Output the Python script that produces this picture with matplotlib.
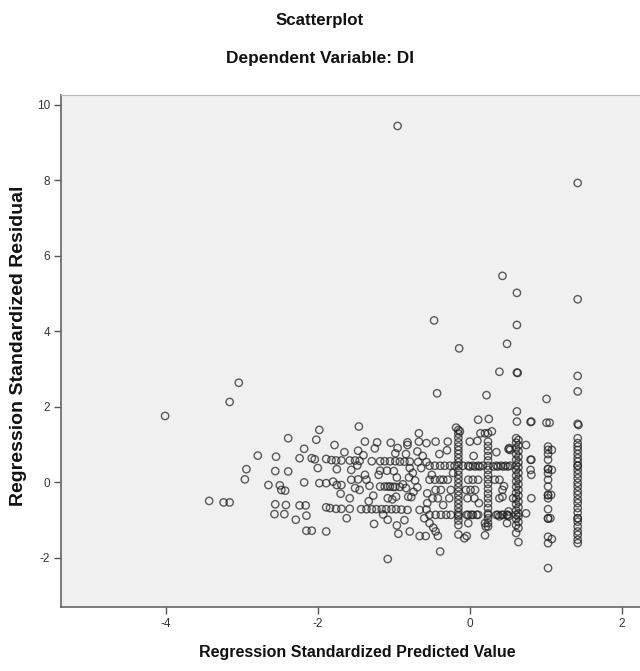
import matplotlib
matplotlib.use("Agg")
import matplotlib.pyplot as plt

# ---------------- data ----------------
outlier_x = [-4.01, -3.04, -3.16, -0.95, 1.42, 0.43, 0.62, 1.42, -0.47, 0.62, 0.49, -0.14,
             0.39, 0.62, 0.63, 1.42, 1.42, -0.43, 0.22, 1.01, 0.62, 0.62, 0.80, 0.25, 0.11,
             1.01, 1.05, 1.42, 1.43]
outlier_y = [1.76, 2.64, 2.13, 9.44, 7.93, 5.47, 5.02, 4.85, 4.29, 4.17, 3.67, 3.55,
             2.93, 2.91, 2.90, 2.82, 2.41, 2.36, 2.31, 2.21, 1.88, 1.61, 1.60, 1.68, 1.66,
             1.58, 1.58, 1.55, 1.52]

left_x = [-3.43, -3.24, -3.16, -2.39, -1.98, -2.02, -2.18, -2.79, -2.55, -2.24, -2.08, -2.04,
          -1.89, -2.00, -2.94, -2.96, -2.56, -2.39, -2.65, -2.50, -2.48, -2.43, -2.18, -1.98,
          -1.89, -2.56, -2.42, -2.24, -2.16, -1.89, -2.57, -2.44, -2.29, -2.15, -2.15, -2.08,
          -1.89]
left_y = [-0.49, -0.53, -0.53, 1.17, 1.39, 1.13, 0.89, 0.71, 0.68, 0.64, 0.64, 0.61,
          0.62, 0.38, 0.35, 0.08, 0.30, 0.29, -0.07, -0.08, -0.20, -0.22, 0.00, -0.02,
          -0.02, -0.58, -0.60, -0.61, -0.61, -0.66, -0.84, -0.84, -0.99, -0.88, -1.28, -1.28,
          -1.30]

midleft_x = [-1.46, -1.78, -1.38, -1.22, -1.04, -0.82, -0.82, -0.67, -0.67, -0.57, -0.95, -0.98,
             -0.84, -0.69, -1.47,
             -1.82, -1.76, -1.69, -1.58, -1.51, -1.45, -1.29, -1.18, -1.12, -1.05, -0.98, -0.92,
             -0.86, -0.79, -0.68, -0.57,
             -1.75, -1.56, -1.18, -1.09, -0.79, -0.64,
             -1.56, -1.47, -1.38, -1.36, -1.32, -0.96, -0.80, -0.69,
             -1.80, -1.75, -1.69, -1.51, -1.45, -1.27,
             -1.18, -1.12, -1.08, -1.05, -1.01, -0.98, -0.92,
             -1.08, -0.97, -0.81, -0.77, -0.84, -1.58, -0.56, -0.56,
             -1.84, -1.76, -1.69, -1.58, -1.43, -1.36, -1.29, -1.23, -1.16, -1.10, -1.03, -0.97,
             -0.90, -0.82, -0.66, -0.57,
             -1.26, -1.08, -0.96, -0.94, -0.79, -0.66, -0.58, -1.08,
             -1.65, -1.40, -1.25, -1.00, -0.75, -0.62, -1.70, -1.20, -0.88, -0.72,
             -1.62, -1.33, -1.14, -0.86, -0.60, -1.48, -1.02, -0.74]
midleft_y = [1.48, 0.99, 1.08, 1.06, 1.05, 1.06, 0.99, 1.30, 1.08, 1.04, 0.91, 0.77,
             0.75, 0.82, 0.84,
             0.59, 0.58, 0.58, 0.58, 0.58, 0.57, 0.56, 0.56, 0.56, 0.56, 0.56, 0.55,
             0.55, 0.55, 0.54, 0.54,
             0.35, 0.33, 0.31, 0.31, 0.38, 0.38,
             0.07, 0.08, 0.20, 0.07, -0.09, 0.13, 0.13, -0.13,
             0.02, -0.07, -0.07, -0.15, -0.20, -0.35,
             -0.11, -0.11, -0.11, -0.11, -0.12, -0.12, -0.12,
             -0.42, -0.38, -0.38, -0.39, -0.15, -0.42, -0.29, -0.55,
             -0.68, -0.70, -0.70, -0.70, -0.71, -0.71, -0.71, -0.71, -0.71, -0.71, -0.71, -0.71,
             -0.72, -0.73, -0.73, -0.72,
             -1.10, -0.99, -1.14, -1.36, -1.30, -1.42, -1.42, -2.03,
             0.80, 0.72, 0.90, 0.30, 0.25, 0.70, -0.30, 0.20, -0.05, 0.05,
             -0.95, -0.50, -0.85, -1.00, -0.95, 0.45, -0.45, -0.25]

center_x = [-0.15] * 25 + [0.24] * 21 + [
    -0.18, -0.13, 0.14, 0.20, 0.29, -0.45, -0.29, 0.00, 0.10, 0.51,
    -0.53, -0.46, -0.39, -0.33, -0.26, -0.20, -0.09, -0.02, 0.04, 0.11, 0.17, 0.35, 0.41, 0.47, 0.53,
    -0.53, -0.46, -0.39, -0.35, -0.29, -0.02, 0.04, 0.11, 0.33, 0.39,
    -0.45, -0.38, -0.25, -0.05, 0.01, 0.07, 0.43,
    -0.49, -0.42, -0.27, -0.03, 0.06, 0.39, 0.57,
    -0.53, -0.45, -0.38, -0.31, -0.25, -0.02, 0.04, 0.11, 0.35, 0.42, 0.49,
    -0.53, -0.02, 0.20, 0.49,
    -0.45, -0.42, -0.15, -0.04, 0.20, -0.39,
    0.81, 0.81, 0.81, 0.81, 0.74, 0.74, 0.53, 0.80, 0.80, 0.52, 0.43, 0.51, 0.51, 0.39,
    0.00, 0.07, 0.13, 0.31, 0.37, 0.44, 0.50,
    -0.04, 0.02, 0.09, 0.37, 0.44, 0.50, -0.07, 0.21,
    -0.40, -0.30, 0.05, 0.35, -0.50, -0.22, 0.45, -0.35, 0.12, -0.48]
center_y = [1.39, 1.29, 1.18, 1.06, 0.95, 0.85, 0.75, 0.64, 0.53, 0.44, 0.31, 0.20, 0.09,
            -0.02, -0.13, -0.24, -0.35, -0.46, -0.57, -0.68, -0.79, -0.86, -0.90, -1.01, -1.13] + \
           [1.30, 1.08, 0.96, 0.84, 0.70, 0.58, 0.44, 0.33, 0.20, 0.08, -0.04, -0.17, -0.30,
            -0.42, -0.55, -0.68, -0.82, -0.86, -0.95, -1.08, -1.17] + [
    1.45, 1.35, 1.30, 1.30, 1.35, 1.08, 1.08, 1.08, 1.10, 0.88,
    0.44, 0.44, 0.44, 0.44, 0.44, 0.44, 0.44, 0.44, 0.44, 0.44, 0.44, 0.44, 0.44, 0.44, 0.44,
    0.07, 0.07, 0.07, 0.07, 0.07, 0.07, 0.07, 0.07, 0.07, 0.07,
    -0.20, -0.20, -0.20, -0.20, -0.20, -0.20, -0.20,
    -0.42, -0.42, -0.42, -0.42, -0.42, -0.42, -0.42,
    -0.86, -0.86, -0.86, -0.86, -0.86, -0.86, -0.86, -0.86, -0.86, -0.86, -0.86,
    -1.08, -1.08, -1.08, -1.08,
    -1.30, -1.42, -1.38, -1.42, -1.40, -1.83,
    1.61, 0.60, 0.20, -0.42, 0.99, -0.82, 0.86, 0.60, 0.33, 0.91, -0.38, -0.77, -0.90, -0.90,
    0.42, 0.42, 0.42, 0.42, 0.42, 0.42, 0.42,
    -0.86, -0.86, -0.86, -0.86, -0.86, -0.86, -1.48, -1.17,
    0.75, 0.85, 0.70, 0.80, 0.20, 0.25, -0.10, -0.60, -0.55, -1.20]

col063_x = [0.61, 0.64] * 18
col063_y = [1.17, 1.12, 1.05, 0.98, 0.90, 0.83, 0.75, 0.68, 0.60, 0.53, 0.45, 0.40, 0.33,
            0.25, 0.18, 0.10, 0.03, -0.05, -0.12, -0.20, -0.28, -0.35, -0.43, -0.51, -0.58,
            -0.66, -0.74, -0.82, -0.86, -0.90, -0.97, -1.05, -1.13, -1.21, -1.34, -1.58]

col103_x = [1.03] * 18 + [1.08, 1.08, 1.07, 1.06, 1.08]
col103_y = [0.95, 0.86, 0.75, 0.60, 0.35, 0.36, 0.24, 0.07, -0.11, -0.33, -0.34, -0.42,
            -0.71, -0.95, -0.96, -1.44, -1.61, -2.27,
            0.86, 0.33, -0.33, -0.95, -1.50]

col142_x = [1.42] * 28
col142_y = [1.17, 1.04, 0.95, 0.86, 0.75, 0.64, 0.55, 0.44, 0.33, 0.22, 0.11, -0.01, -0.11,
            -0.23, -0.33, -0.45, -0.55, -0.68, -0.80, -0.95, -1.04, -1.17, -1.30, -1.39,
            -1.52, -1.61, 0.44, -0.95]

x_ticks = [-4, -2, 0, 2]
y_ticks = [-2, 0, 2, 4, 6, 8, 10]

# ---------------- figure ----------------
FONT = ["Liberation Sans", "DejaVu Sans"]
fig = plt.figure(figsize=(6.4, 6.71), dpi=100)
ax = fig.add_axes([0.0953, 0.0954, 0.9047, 0.763])
ax.set_facecolor("#F0F0F0")

xs = outlier_x + left_x + midleft_x + center_x + col063_x + col103_x + col142_x
ys = outlier_y + left_y + midleft_y + center_y + col063_y + col103_y + col142_y
ax.scatter(xs, ys, s=28, facecolors="none", edgecolors="#202020",
           linewidths=1.0, alpha=0.72, zorder=3)

ax.set_xlim(-5.38, 2.24)
ax.set_ylim(-3.30, 10.26)
ax.set_xticks(x_ticks)
ax.set_yticks(y_ticks)
ax.set_xticklabels([str(t) for t in x_ticks], family=FONT, fontsize=8.5, color="#333333")
ax.set_yticklabels([str(t) for t in y_ticks], family=FONT, fontsize=8.5, color="#333333")
ax.tick_params(direction="out", length=5, width=1, color="#555555", pad=3)

for s in ["left", "bottom"]:
    ax.spines[s].set_color("#666666")
    ax.spines[s].set_linewidth(1.2)
ax.spines["top"].set_color("#BBBBBB")
ax.spines["right"].set_visible(False)

fig.text(0.5, 1 - 21 / 671, "Scatterplot", ha="center", va="center",
         family=FONT, fontsize=12.2, fontweight="bold", color="#111111")
fig.text(0.5, 1 - 58 / 671, "Dependent Variable: DI", ha="center", va="center",
         family=FONT, fontsize=12.4, fontweight="bold", color="#111111")
fig.text(357 / 640, 1 - 652 / 671, "Regression Standardized Predicted Value",
         ha="center", va="center", family=FONT, fontsize=11.5, fontweight="bold",
         color="#111111")
fig.text(19 / 640, 1 - 346 / 671, "Regression Standardized Residual", rotation=90,
         ha="center", va="center", family=FONT, fontsize=14, fontweight="bold",
         color="#111111")

fig.savefig("out.png", dpi=100, facecolor="white")
